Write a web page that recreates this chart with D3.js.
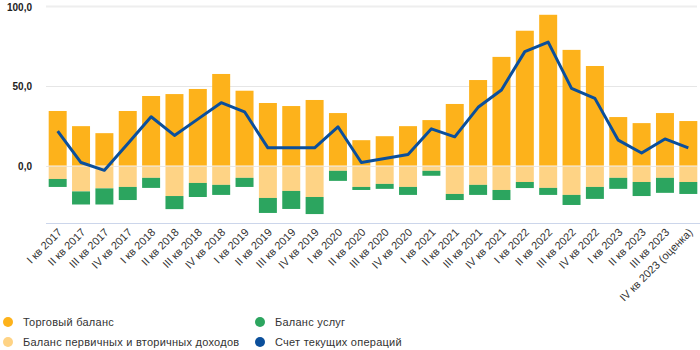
<!DOCTYPE html>
<html><head><meta charset="utf-8">
<script src="https://cdn.jsdelivr.net/npm/d3@7"></script>
<style>
html,body{margin:0;padding:0;background:#fff;}
svg{display:block;font-family:"Liberation Sans",Arial,sans-serif;}
</style></head>
<body><svg id="c" width="700" height="350"></svg>
<script>
const categories = ["I кв 2017","II кв 2017","III кв 2017","IV кв 2017","I кв 2018","II кв 2018","III кв 2018","IV кв 2018","I кв 2019","II кв 2019","III кв 2019","IV кв 2019","I кв 2020","II кв 2020","III кв 2020","IV кв 2020","I кв 2021","II кв 2021","III кв 2021","IV кв 2021","I кв 2022","II кв 2022","III кв 2022","IV кв 2022","I кв 2023","II кв 2023","III кв 2023","IV кв 2023 (оценка)"];
const tradeBalance = [34.2,24.7,20.3,34.2,43.6,44.8,48.0,57.4,46.9,39.2,37.3,41.1,32.9,15.9,18.4,24.7,28.5,38.6,53.6,68.1,84.5,94.5,72.5,62.4,30.4,26.6,32.9,27.9];
const incomeBalance = [-8.4,-16.2,-14.3,-13.4,-7.7,-19.1,-10.9,-12.1,-7.7,-20.3,-15.9,-19.7,-3.3,-13.4,-11.5,-13.4,-3.3,-17.8,-12.1,-15.3,-10.3,-14.0,-18.4,-13.4,-7.7,-10.3,-7.7,-10.3];
const servicesBalance = [-5.0,-8.2,-10.1,-8.2,-6.3,-8.2,-8.8,-6.3,-5.7,-9.4,-11.3,-10.7,-6.3,-1.9,-3.1,-5.0,-3.1,-3.8,-6.3,-6.3,-3.8,-4.4,-6.3,-7.5,-6.9,-8.8,-9.4,-7.5];
const currentAccount = [21.6,1.9,-3.0,13.6,30.6,18.9,29.1,39.4,33.7,11.1,11.1,11.1,24.3,1.9,4.4,6.9,23.0,18.0,36.5,47.4,71.4,77.4,48.4,42.1,15.9,7.9,16.7,11.1];
const yTicks = [0,50,100];
const seriesNames = ["Торговый баланс","Баланс услуг","Баланс первичных и вторичных доходов","Счет текущих операций"];

const colors = {trade:"#fdb21b", income:"#fed385", services:"#2ca55f", line:"#0b4f9b"};

const svg = d3.select("#c");
const x = d3.scaleBand().domain(categories).range([46,700]).paddingInner(0.23).paddingOuter(0.115);
const y = d3.scaleLinear().domain([-36,100]).range([223,6]);
const fmt = v => d3.format(".1f")(v).replace(".", ",");

// gridlines
const grid = svg.append("g");
grid.selectAll("line").data(yTicks).join("line")
  .attr("x1",46).attr("x2",697)
  .attr("y1",d=>Math.round(y(d))+0.5).attr("y2",d=>Math.round(y(d))+0.5)
  .attr("stroke",d=>d===100?"#eeeeee":"#e6e6e6").attr("stroke-width",d=>d===100?2:1);

// y labels
svg.append("g").selectAll("text").data(yTicks).join("text")
  .attr("x",32).attr("y",d=>y(d)+1).attr("dy","0.35em")
  .attr("text-anchor","end").attr("font-size",10).attr("font-weight","bold").attr("fill","#222")
  .text(fmt);

const bars = svg.append("g");
// trade (positive)
bars.selectAll(".t").data(tradeBalance).join("rect")
  .attr("x",(d,i)=>x(categories[i])).attr("width",x.bandwidth())
  .attr("y",d=>y(d)).attr("height",d=>y(0)-y(d)).attr("fill",colors.trade);
// income (negative, first)
bars.selectAll(".i").data(incomeBalance).join("rect")
  .attr("x",(d,i)=>x(categories[i])).attr("width",x.bandwidth())
  .attr("y",y(0)).attr("height",d=>y(d)-y(0)).attr("fill",colors.income);
// services (negative, stacked below income)
bars.selectAll(".s").data(servicesBalance).join("rect")
  .attr("x",(d,i)=>x(categories[i])).attr("width",x.bandwidth())
  .attr("y",(d,i)=>y(incomeBalance[i])).attr("height",(d,i)=>y(incomeBalance[i]+d)-y(incomeBalance[i])).attr("fill",colors.services);

// zero line overlay
svg.append("line").attr("x1",46).attr("x2",697)
  .attr("y1",Math.round(y(0))+0.5).attr("y2",Math.round(y(0))+0.5)
  .attr("stroke","rgba(235,235,235,0.6)").attr("stroke-width",1);

// line
const line = d3.line().x((d,i)=>x(categories[i])+x.bandwidth()/2).y(d=>y(d));
svg.append("path").datum(currentAccount).attr("d",line)
  .attr("fill","none").attr("stroke",colors.line).attr("stroke-width",3).attr("stroke-linejoin","round");

// x axis line
svg.append("line").attr("x1",46).attr("x2",700).attr("y1",223.5).attr("y2",223.5).attr("stroke","#ccd6eb");

// x labels
svg.append("g").selectAll("text").data(categories).join("text")
  .attr("transform",d=>`translate(${x(d)+x.bandwidth()/2+5},233) rotate(-45)`)
  .attr("text-anchor","end").attr("font-size",11).attr("fill","#333")
  .text(d=>d);

// legend
const legend = [
  {name:seriesNames[0], color:colors.trade, x:8, y:322},
  {name:seriesNames[1], color:colors.services, x:260, y:322},
  {name:seriesNames[2], color:colors.income, x:8, y:342},
  {name:seriesNames[3], color:colors.line, x:260, y:342}
];
const lg = svg.append("g").selectAll("g").data(legend).join("g")
  .attr("transform",d=>`translate(${d.x},${d.y})`);
lg.append("circle").attr("r",5).attr("fill",d=>d.color);
lg.append("text").attr("x",15).attr("dy","0.35em").attr("font-size",11).attr("letter-spacing",0.25).attr("fill","#333").text(d=>d.name);
</script>
</body></html>
